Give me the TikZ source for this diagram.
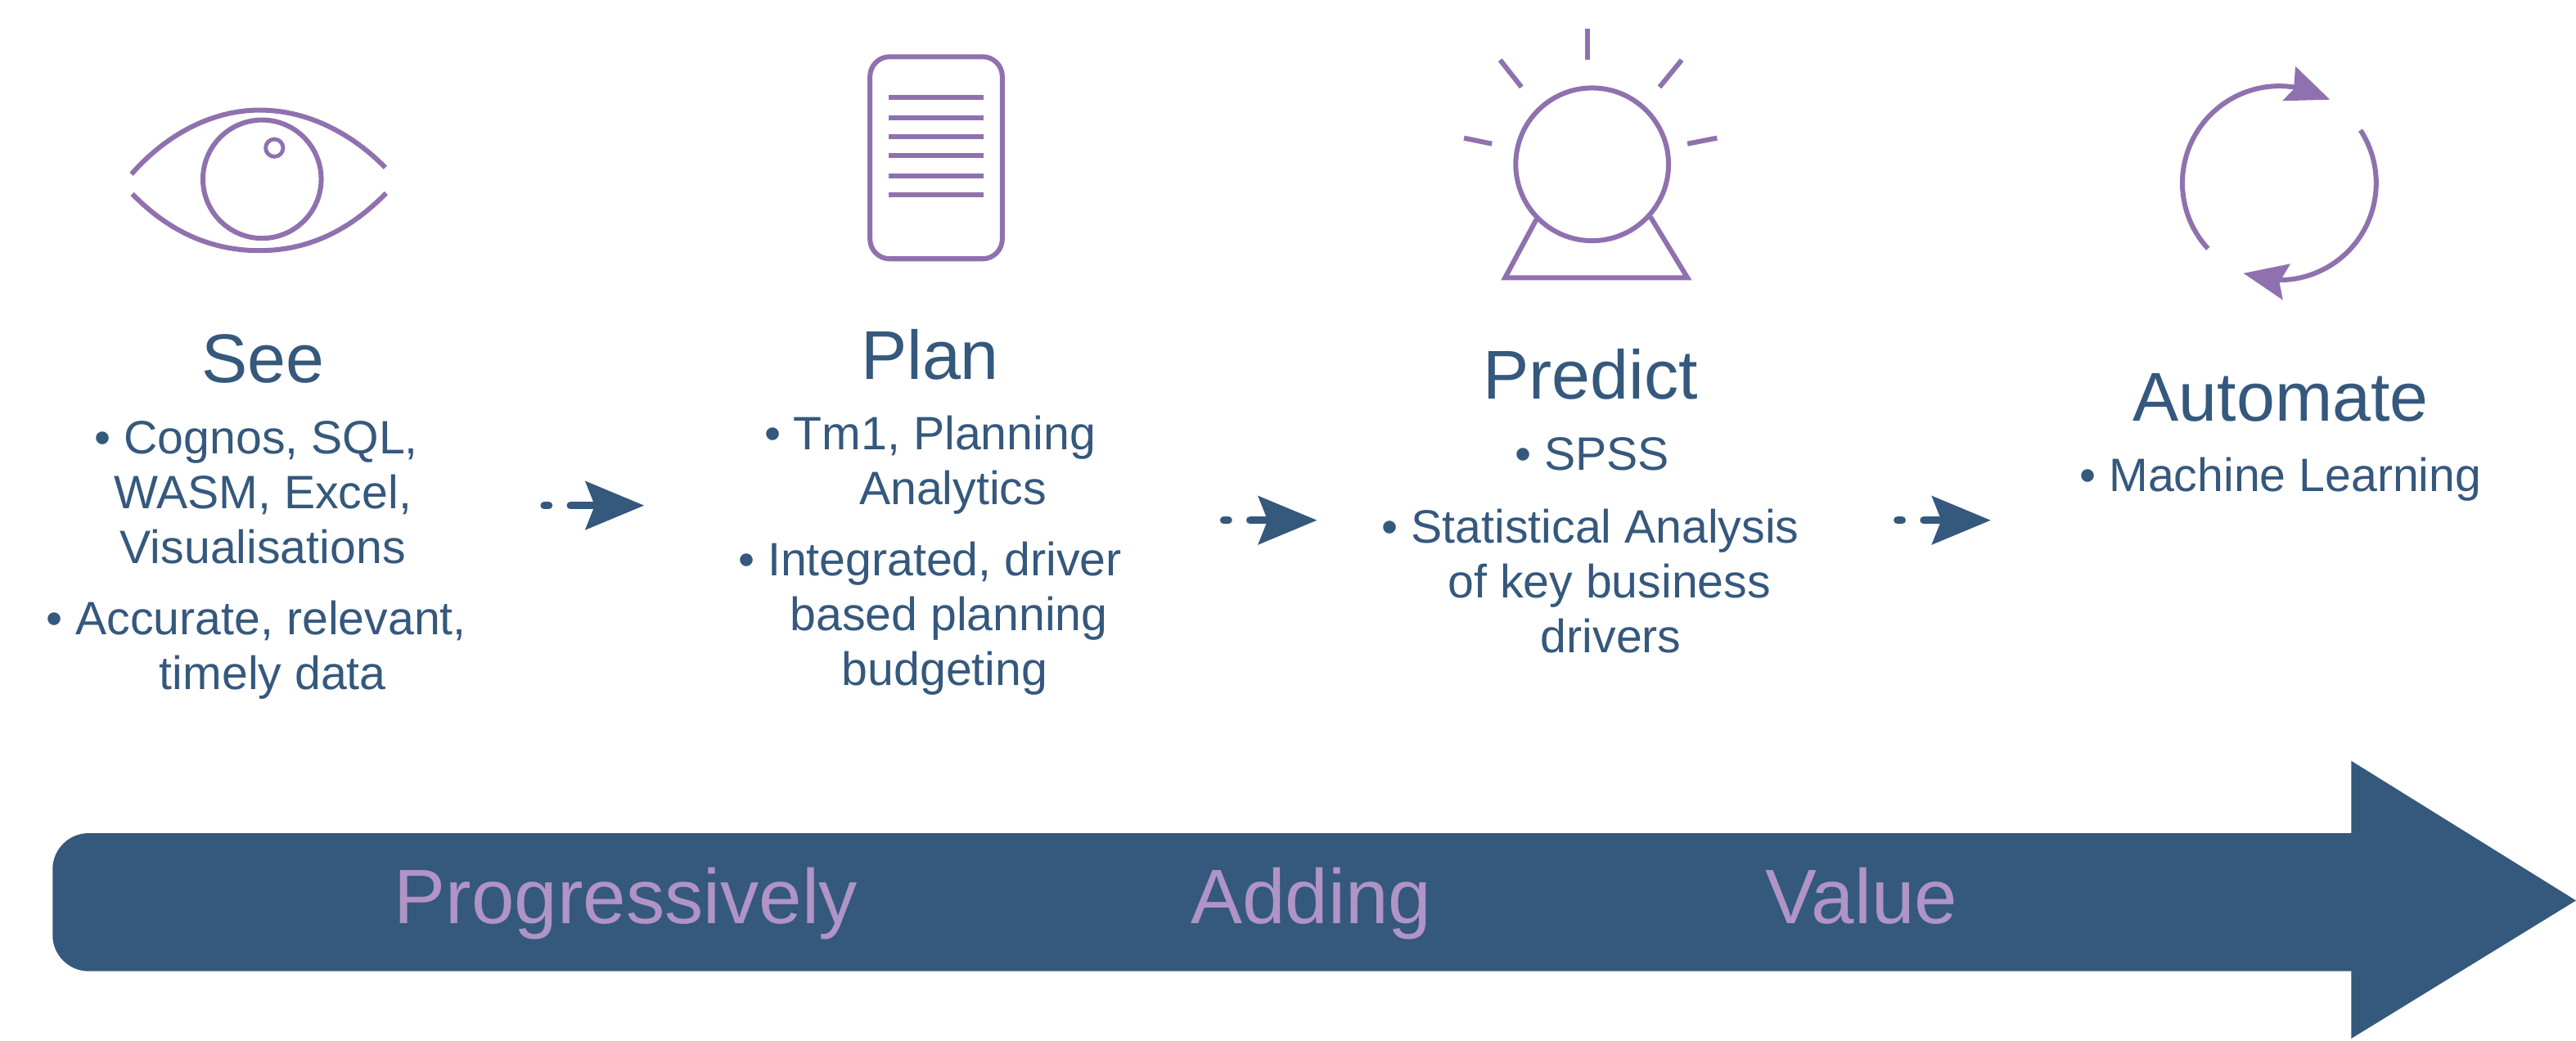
\documentclass[tikz,border=0pt]{standalone}
\usepackage{fontspec}
\setmainfont{Liberation Sans}
\usetikzlibrary{arrows.meta}
\definecolor{bandblue}{RGB}{53,88,125}
\definecolor{iconpurple}{RGB}{143,113,175}
\definecolor{bandlilac}{RGB}{176,148,198}
\newcommand{\bul}{\textbullet\ }
\tikzset{
  icon/.style={draw=iconpurple, line width=3pt},
  title/.style={text=bandblue, anchor=base, inner sep=0pt, font=\fontsize{42}{48}\selectfont},
  body/.style={text=bandblue, anchor=base, inner sep=0pt, align=center, font=\fontsize{28.5}{33.4}\selectfont},
  bandtext/.style={text=bandlilac, anchor=base, inner sep=0pt, font=\fontsize{47}{56}\selectfont},
  flow/.style={bandblue, line width=4.6pt, line cap=round, dash pattern=on 2.8pt off 13.2pt on 100pt,
    -{Stealth[length=36pt,width=30pt,inset=6pt,sharp,line width=0pt]}}
}
\begin{document}
\begin{tikzpicture}[x=1pt, y=-1pt]
  \useasboundingbox (0,0) rectangle (1567.8,633);
  % see
  \draw[icon] (80,106) .. controls (100,83) and (128,67) .. (158,67) .. controls (188,67) and (215,82) .. (234.5,102);
  \draw[icon] (80.5,118) .. controls (100,138) and (125,152.5) .. (158,152.5) .. controls (190,152.5) and (215,138) .. (235,117.5);
  \draw[icon] (159.5,109) circle[radius=36pt];
  \draw[icon, line width=2.4pt] (167,90) circle[radius=5.3pt];
  % plan
  \draw[icon, rounded corners=12pt] (529.5,34.5) rectangle (610,157.5);
  \draw[icon] (541,59.3) -- (598.6,59.3);
  \draw[icon] (541,71.7) -- (598.6,71.7);
  \draw[icon] (541,83) -- (598.6,83);
  \draw[icon] (541,94.8) -- (598.6,94.8);
  \draw[icon] (541,107) -- (598.6,107);
  \draw[icon] (541,118.7) -- (598.6,118.7);
  % predict
  \draw[icon] (969,100) circle[radius=46.5pt];
  \draw[icon] (966,17.4) -- (966,36.5);
  \draw[icon] (913,36.5) -- (926,53);
  \draw[icon] (1023.5,36.5) -- (1010,53);
  \draw[icon] (891,84) -- (908,87.5);
  \draw[icon] (1045,84) -- (1027,87.5);
  \draw[icon, line join=miter] (935,133.6) -- (916,169) -- (1027,169) -- (1004.5,132);
  % automate
  \draw[icon] (1343.8,151.3) arc[start angle=222.6, end angle=80, radius=59pt];
  \draw[icon] (1436.6,79.2) arc[start angle=33.1, end angle=-90, radius=59pt];
  \fill[iconpurple] (1397,40.3) -- (1418,60.6) -- (1389,61.4) -- (1396,54.3) -- cycle;
  \fill[iconpurple] (1365.4,166.3) -- (1394,160.5) -- (1387.3,171.8) -- (1389.4,182.6) -- cycle;

  % texts
  \node[title] (see) at (160,233) {See};
  \node[body] (seeone) at (156,342.8) {\bul Cognos, SQL,\\\hspace*{8pt}WASM, Excel,\\\hspace*{8pt}Visualisations};
  \node[body] (seetwo) at (156,419.7) {\bul Accurate, relevant,\\\hspace*{20pt}timely data};
  \node[title] (plan) at (566,231) {Plan};
  \node[body] (planone) at (566,307) {\bul Tm1, Planning\\\hspace*{28pt}Analytics};
  \node[body] (plantwo) at (566,417) {\bul Integrated, driver\\\hspace*{23pt}based planning\\\hspace*{18pt}budgeting};
  \node[title] (predict) at (968,243) {Predict};
  \node[body] (predictone) at (969,286) {\bul SPSS};
  \node[body] (predicttwo) at (968,397) {\bul Statistical Analysis\\\hspace*{23pt}of key business\\\hspace*{25pt}drivers};
  \node[title] (automate) at (1388,256) {Automate};
  \node[body] (automateone) at (1388,299) {\bul Machine Learning};

  % small arrows
  \coordinate (seeout) at (331.2,307.6);
  \coordinate (planin) at (392,307.6);
  \coordinate (planout) at (744.8,316.6);
  \coordinate (predictin) at (801.5,316.6);
  \coordinate (predictout) at (1154.8,316.6);
  \coordinate (autoin) at (1211.5,316.6);
  \draw[flow] (seeout) -- (planin);
  \draw[flow] (planout) -- (predictin);
  \draw[flow] (predictout) -- (autoin);

  % band
  \fill[bandblue] (1431,507) -- (54,507) arc[start angle=90, end angle=180, radius=22pt] -- (32,569)
    arc[start angle=180, end angle=270, radius=22pt] -- (1431,591) -- (1431,632) -- (1567.8,548) -- (1431,463) -- cycle;
  \node[bandtext] (progress) at (381,562) {Progressively};
  \node[bandtext] (adding) at (798,562) {Adding};
  \node[bandtext] (valuetext) at (1133,562) {Value};
\end{tikzpicture}
\end{document}
